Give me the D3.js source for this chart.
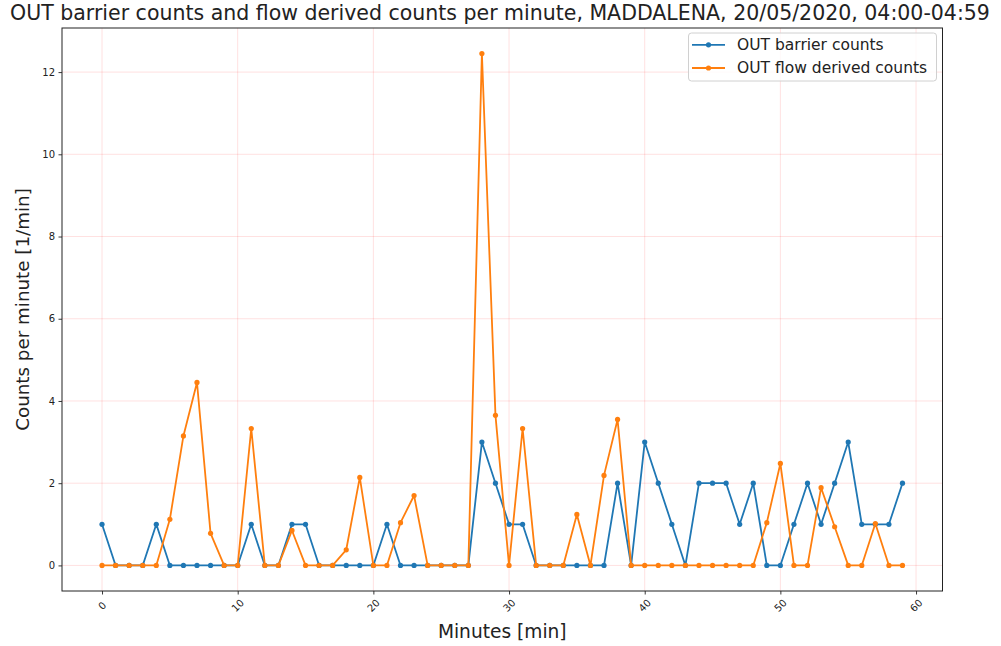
<!DOCTYPE html>
<html>
<head>
<meta charset="utf-8">
<script src="https://cdn.jsdelivr.net/npm/d3@7"></script>
<style>
  html, body { margin: 0; padding: 0; background: #fff; }
  svg { display: block; font-family: "DejaVu Sans", sans-serif; }
</style>
</head>
<body>
<svg id="chart" width="1001" height="646"></svg>
<script>
// Per-minute counts, 04:00-04:59
const minutes = d3.range(0, 60);
const barrierCounts = [
  1, 0, 0, 0, 1, 0, 0, 0, 0, 0,
  0, 1, 0, 0, 1, 1, 0, 0, 0, 0,
  0, 1, 0, 0, 0, 0, 0, 0, 3, 2,
  1, 1, 0, 0, 0, 0, 0, 0, 2, 0,
  3, 2, 1, 0, 2, 2, 2, 1, 2, 0,
  0, 1, 2, 1, 2, 3, 1, 1, 1, 2
];
const flowCounts = [
  0, 0, 0, 0, 0, 1.12, 3.15, 4.45, 0.78, 0,
  0, 3.33, 0, 0, 0.85, 0, 0, 0, 0.38, 2.14,
  0, 0, 1.04, 1.70, 0, 0, 0, 0, 12.45, 3.65,
  0, 3.33, 0, 0, 0, 1.24, 0, 2.19, 3.55, 0,
  0, 0, 0, 0, 0, 0, 0, 0, 0, 1.04,
  2.48, 0, 0, 1.89, 0.94, 0, 0, 1.02, 0, 0
];
const xTicks = [0, 10, 20, 30, 40, 50, 60];
const yTicks = [0, 2, 4, 6, 8, 10, 12];
const seriesNames = ["OUT barrier counts", "OUT flow derived counts"];
const seriesColors = ["#1f77b4", "#ff7f0e"];
const titleText = "OUT barrier counts and flow derived counts per minute, MADDALENA, 20/05/2020, 04:00-04:59";
const xLabel = "Minutes [min]";
const yLabel = "Counts per minute [1/min]";

const svg = d3.select("#chart");
const plot = { left: 62, right: 942.5, top: 28, bottom: 591 };

// Axis ranges padded by 5% of the data span on each side
const xPad = 59 * 0.05;
const yMax = d3.max(flowCounts.concat(barrierCounts));
const yPad = yMax * 0.05;
const x = d3.scaleLinear().domain([0 - xPad, 59 + xPad]).range([plot.left, plot.right]);
const y = d3.scaleLinear().domain([0 - yPad, yMax + yPad]).range([plot.bottom, plot.top]);

// Grid
const grid = svg.append("g").attr("stroke", "rgba(255,0,0,0.12)").attr("stroke-width", 1);
grid.selectAll("line.gx").data(xTicks).join("line")
  .attr("x1", d => x(d)).attr("x2", d => x(d))
  .attr("y1", plot.top).attr("y2", plot.bottom);
grid.selectAll("line.gy").data(yTicks).join("line")
  .attr("y1", d => y(d)).attr("y2", d => y(d))
  .attr("x1", plot.left).attr("x2", plot.right);

// Series
const series = [barrierCounts, flowCounts];
series.forEach((vals, i) => {
  const pts = minutes.map((m, j) => [m, vals[j]]);
  const line = d3.line().x(d => x(d[0])).y(d => y(d[1]));
  const g = svg.append("g");
  g.append("path").attr("d", line(pts))
    .attr("fill", "none").attr("stroke", seriesColors[i])
    .attr("stroke-width", 1.8).attr("stroke-linejoin", "round");
  g.selectAll("circle").data(pts).join("circle")
    .attr("cx", d => x(d[0])).attr("cy", d => y(d[1])).attr("r", 2.6)
    .attr("fill", seriesColors[i]);
});

// Axes
const xAxis = svg.append("g").attr("transform", `translate(0,${plot.bottom})`)
  .call(d3.axisBottom(x).tickValues(xTicks).tickSize(3.5).tickPadding(3).tickFormat(d3.format("d")));
xAxis.selectAll("text")
  .attr("font-size", 10).attr("fill", "#222")
  .attr("text-anchor", "middle")
  .attr("dy", null)
  .attr("y", 0)
  .attr("transform", "translate(0,15) rotate(-45)")
  .attr("dominant-baseline", "middle");

const yAxis = svg.append("g").attr("transform", `translate(${plot.left},0)`)
  .call(d3.axisLeft(y).tickValues(yTicks).tickSize(3.5).tickPadding(3.5).tickFormat(d3.format("d")));
yAxis.selectAll("text").attr("font-size", 10).attr("fill", "#222");

[xAxis, yAxis].forEach(a => {
  a.select(".domain").remove();
  a.selectAll(".tick line").attr("stroke", "#222").attr("stroke-width", 0.9);
  a.attr("font-family", "DejaVu Sans, sans-serif");
});

// Frame
svg.append("rect")
  .attr("x", plot.left).attr("y", plot.top)
  .attr("width", plot.right - plot.left).attr("height", plot.bottom - plot.top)
  .attr("fill", "none").attr("stroke", "#222").attr("stroke-width", 1);

// Title and axis labels
svg.append("text").attr("x", 500).attr("y", 19.5)
  .attr("text-anchor", "middle").attr("font-size", 20.5).attr("fill", "#222")
  .text(titleText);
svg.append("text").attr("x", (plot.left + plot.right) / 2).attr("y", 638)
  .attr("text-anchor", "middle").attr("font-size", 18.6).attr("fill", "#222")
  .text(xLabel);
svg.append("text")
  .attr("transform", `translate(28.5,${(plot.top + plot.bottom) / 2}) rotate(-90)`)
  .attr("text-anchor", "middle").attr("font-size", 18.3).attr("fill", "#222")
  .text(yLabel);

// Legend
const legend = svg.append("g");
legend.append("rect")
  .attr("x", 688.5).attr("y", 33).attr("width", 248).attr("height", 48)
  .attr("rx", 3).attr("fill", "rgba(255,255,255,0.8)")
  .attr("stroke", "#d0d0d0").attr("stroke-width", 1);
seriesNames.forEach((name, i) => {
  const cy = 44.8 + i * 23.2;
  legend.append("line").attr("x1", 692).attr("x2", 725).attr("y1", cy).attr("y2", cy)
    .attr("stroke", seriesColors[i]).attr("stroke-width", 1.8);
  legend.append("circle").attr("cx", 708.5).attr("cy", cy).attr("r", 2.6).attr("fill", seriesColors[i]);
  legend.append("text").attr("x", 737).attr("y", cy).attr("dy", "0.35em")
    .attr("font-size", 15.5).attr("fill", "#222").text(name);
});
</script>
</body>
</html>
